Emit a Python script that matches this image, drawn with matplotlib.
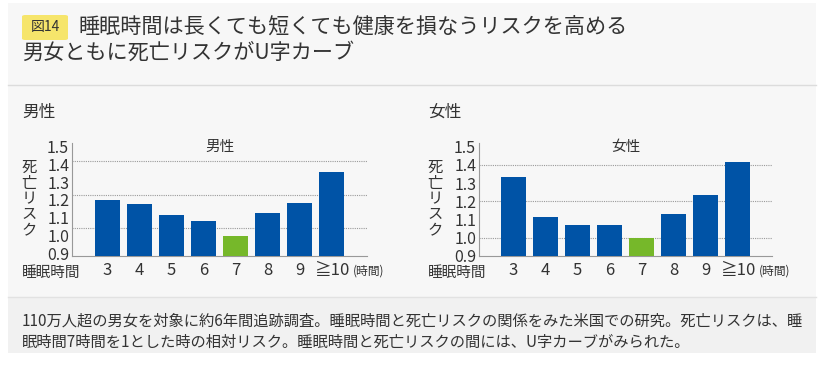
import matplotlib
matplotlib.use("Agg")
import matplotlib.pyplot as plt
from matplotlib.patches import Rectangle, FancyBboxPatch

plt.rcParams["font.family"] = ["Noto Sans CJK JP", "DejaVu Sans"]

# ---------- データ ----------
hours = ["3", "4", "5", "6", "7", "8", "9", "≧10"]
male_risk = [1.20, 1.175, 1.113, 1.08, 1.00, 1.127, 1.183, 1.358]
female_risk = [1.335, 1.115, 1.068, 1.068, 1.00, 1.13, 1.234, 1.417]
y_ticks = [0.9, 1.0, 1.1, 1.2, 1.3, 1.4, 1.5]
male_grid = [1.04, 1.23, 1.42]
female_grid = [1.0, 1.2, 1.4]

BLUE = "#0053a6"; GREEN = "#76b82a"; INK = "#333333"
W, H = 826, 365

fig = plt.figure(figsize=(W / 100, H / 100), dpi=100)
fig.patch.set_facecolor("white")

def fx(px): return px / W
def fy(py): return 1 - py / H

# 背景パネル
fig.patches.append(Rectangle((fx(8), fy(297)), fx(808), 294 / H, transform=fig.transFigure,
                             fc="#f7f7f7", ec="none", zorder=-2))
fig.patches.append(Rectangle((fx(8), fy(353)), fx(808), 56 / H, transform=fig.transFigure,
                             fc="#f1f1f1", ec="none", zorder=-2))
fig.lines.append(plt.Line2D([fx(8), fx(816)], [fy(85), fy(85)], transform=fig.transFigure,
                            color="#dcdcdc", lw=1, zorder=-1))
fig.lines.append(plt.Line2D([fx(8), fx(816)], [fy(297), fy(297)], transform=fig.transFigure,
                            color="#e2e2e2", lw=1, zorder=-1))

# タイトル
fig.patches.append(FancyBboxPatch((fx(22), fy(40)), fx(46), 25 / H, transform=fig.transFigure,
                                  boxstyle="round,pad=0,rounding_size=0.004", fc="#f6e56b", ec="none",
                                  zorder=-1))
fig.text(fx(45), fy(27.5), "図14", ha="center", va="center", fontsize=10, color=INK)
fig.text(fx(78), fy(27), "睡眠時間は長くても短くても健康を損なうリスクを高める",
         ha="left", va="center", fontsize=15.2, color=INK)
fig.text(fx(22), fy(53), "男女ともに死亡リスクがU字カーブ",
         ha="left", va="center", fontsize=15.2, color=INK)

note = ("110万人超の男女を対象に約6年間追跡調査。睡眠時間と死亡リスクの関係をみた米国での研究。死亡リスクは、睡\n"
        "眠時間7時間を1とした時の相対リスク。睡眠時間と死亡リスクの間には、U字カーブがみられた。")
fig.text(fx(22), fy(332), note, ha="left", va="center", fontsize=11, color=INK, linespacing=1.3)


def panel(label, values, grid, left, right, ybottom, xleft, xright, sec_x):
    ax = fig.add_axes([fx(left), fy(256), fx(right - left), (256 - 143) / H])
    ax.set_facecolor("none")
    x = list(range(len(values)))
    colors = [GREEN if h == "7" else BLUE for h in hours]
    ax.bar(x, [v - ybottom for v in values], bottom=ybottom, width=0.78, color=colors, zorder=3)
    for g in grid:
        ax.axhline(g, color="#9a9a9a", lw=0.8, ls=(0, (1, 1)), zorder=1)
    ax.set_ylim(ybottom, 1.52)
    ax.set_xlim(xleft, xright)
    ax.set_yticks(y_ticks)
    ax.set_yticklabels([f"{t:.1f}" for t in y_ticks], fontsize=11.5, color=INK)
    ax.set_xticks(x)
    ax.set_xticklabels(hours, fontsize=12, color=INK)
    ax.tick_params(length=0, pad=2)
    ax.tick_params(axis="x", pad=4)
    for s in ("top", "right"):
        ax.spines[s].set_visible(False)
    for s in ("left", "bottom"):
        ax.spines[s].set_color("#999999")
        ax.spines[s].set_linewidth(0.8)
    ax.text(3.5, 1.5, label, ha="center", va="center", fontsize=10.5, color=INK)
    # 軸ラベル類
    fig.text(fx(sec_x), fy(112), label, ha="left", va="center", fontsize=12, color=INK)
    fig.text(fx(sec_x + 7), fy(199), "\n".join("死亡リスク"), ha="center", va="center",
             fontsize=11, color=INK, linespacing=0.92)
    fig.text(fx(sec_x), fy(273), "睡眠時間", ha="left", va="center", fontsize=10.5, color=INK)
    bbox_x = ax.transData.transform((len(values) - 1, 0))[0]
    fig.text((bbox_x + 21) / W, fy(271), "(時間)", ha="left", va="center", fontsize=8.5, color=INK)
    return ax


panel("男性", male_risk, male_grid, 72, 367, 0.885, -1.11, 8.1, 22)
panel("女性", female_risk, female_grid, 479, 772, 0.90, -1.08, 8.08, 428)

fig.savefig("out.png", dpi=100, facecolor="white")
